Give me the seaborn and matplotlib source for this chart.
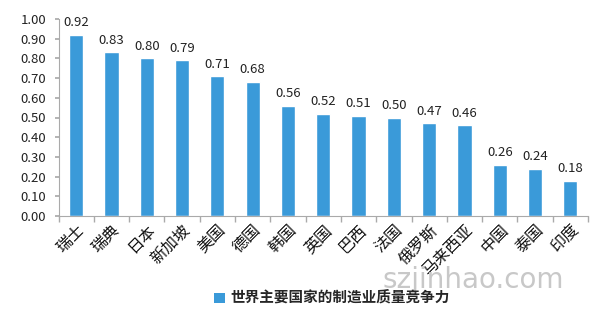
import matplotlib
matplotlib.use("Agg")
import matplotlib.pyplot as plt
import seaborn as sns
import pandas as pd
import numpy as np

countries = ["瑞士", "瑞典", "日本", "新加坡", "美国", "德国", "韩国", "英国", "巴西", "法国", "俄罗斯", "马来西亚", "中国", "泰国", "印度"]
values = [0.92, 0.83, 0.80, 0.79, 0.71, 0.68, 0.56, 0.52, 0.51, 0.50, 0.47, 0.46, 0.26, 0.24, 0.18]
yticks = [0.0, 0.1, 0.2, 0.3, 0.4, 0.5, 0.6, 0.7, 0.8, 0.9, 1.0]
series_name = "世界主要国家的制造业质量竞争力"

sns.set_theme(style="white")
plt.rcParams['font.family'] = ['Noto Sans CJK SC', 'DejaVu Sans']

df = pd.DataFrame({"country": countries, "value": values})
bar_color = "#3a9ad9"

fig = plt.figure(figsize=(5.96, 3.17), dpi=100)
ax = fig.add_axes([58.5/596, 1 - 216/317, (588-58.5)/596, (216-19)/317])
sns.barplot(data=df, x="country", y="value", color=bar_color, width=0.4, ax=ax, saturation=1)

ax.set_ylim(0, 1.0)
ax.set_yticks(yticks)
ax.set_yticklabels([f"{t:.2f}" for t in yticks], fontsize=9.5, color="#222222")
ax.set_xlabel("")
ax.set_ylabel("")
ax.set_xticks(range(len(countries)))
ax.set_xticklabels(countries, rotation=45, ha="right", rotation_mode="anchor", fontsize=11.5, color="#111111")
ax.tick_params(axis="x", length=0, pad=4)
ax.tick_params(axis="y", length=3, color="#aaaaaa", left=True, pad=6)
# category separator ticks
ax.set_xticks(np.arange(-0.5, len(countries), 1), minor=True)
ax.tick_params(axis="x", which="minor", length=4, color="#aaaaaa", bottom=True)

for s in ["top", "right"]:
    ax.spines[s].set_visible(False)
for s in ["left", "bottom"]:
    ax.spines[s].set_color("#aaaaaa")
    ax.spines[s].set_linewidth(0.8)

for c in ax.containers:
    ax.bar_label(c, labels=[f"{v:.2f}" for v in values], padding=4, fontsize=9.5, color="#222222")

# legend
from matplotlib.patches import Patch
handles = [Patch(facecolor=bar_color, edgecolor="none")]
leg = fig.legend(handles, [series_name], loc="center", bbox_to_anchor=(332/596, 1 - 298/317),
                 frameon=False, handlelength=0.7, handleheight=0.7, handletextpad=0.4,
                 prop={"family": ['Noto Sans CJK SC', 'DejaVu Sans'], "weight": "bold", "size": 10.5})

fig.text(473/596, 1 - 280/317, "szjinhao.com", fontsize=20, color="#c8c8c8", ha="center", va="center",
         family="DejaVu Sans")

fig.savefig("out.png", dpi=100, facecolor="white")
